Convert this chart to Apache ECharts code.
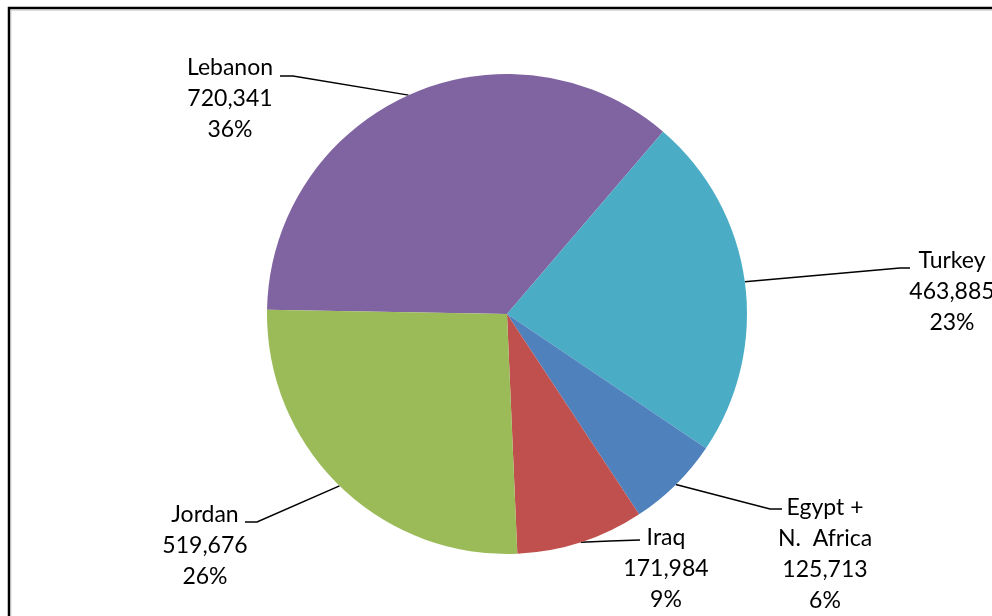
<!DOCTYPE html>
<html>
<head>
<meta charset="utf-8">
<script src="https://cdn.jsdelivr.net/npm/echarts@6/dist/echarts.min.js"></script>
<style>
  html, body { margin: 0; padding: 0; background: #fff; }
  #chart { width: 992px; height: 616px; }
</style>
</head>
<body>
<div id="chart"></div>
<script>
// countries, clockwise from 9 o'clock
var countries = ['Lebanon', 'Turkey', 'Egypt +\nN.  Africa', 'Iraq', 'Jordan'];
var refugees = [720341, 463885, 125713, 171984, 519676];
var colors = ['#8064A2', '#4BACC6', '#4F81BD', '#C0504D', '#9BBB59'];

// where each label sits (block centre) and where its leader line bends / ends
var labelPos = [[230, 99], [952, 292], [825, 554], [666, 569], [205, 546]];
var bendPts = [[[293, 76], [280, 76]], [[900, 268], [910, 268]], [[770, 509], [782, 509]], [[610, 541], [640, 540]], [[257, 522], [245, 522]]];

var chart = echarts.init(document.getElementById('chart'));

chart.setOption({
  backgroundColor: '#fff',
  animation: false,
  graphic: [
    { type: 'rect', shape: { x: 9, y: 8, width: 1200, height: 1000 }, style: { fill: 'none', stroke: '#000', lineWidth: 2.5 } },
    { type: 'rect', shape: { x: 10.8, y: 10, width: 1200, height: 1000 }, style: { fill: 'none', stroke: '#bbb', lineWidth: 1 } }
  ],
  series: [{
    type: 'pie',
    center: [507, 314],
    radius: 240,
    startAngle: 179,
    clockwise: true,
    percentPrecision: 0,
    data: countries.map(function (c, i) {
      return { name: c, value: refugees[i], itemStyle: { color: colors[i] } };
    }),
    label: {
      show: true,
      position: 'outside',
      color: '#000',
      fontFamily: 'Lato',
      fontSize: 23,
      lineHeight: 31,
      align: 'center',
      formatter: function (p) {
        return p.name + '\n' + p.value.toLocaleString('en-US') + '\n' + p.percent + '%';
      }
    },
    labelLine: {
      show: true,
      lineStyle: { color: '#000', width: 1.5 }
    },
    labelLayout: function (params) {
      var i = params.dataIndex;
      var start = params.labelLinePoints ? params.labelLinePoints[0] : bendPts[i][0];
      return {
        x: labelPos[i][0],
        y: labelPos[i][1],
        align: 'center',
        verticalAlign: 'middle',
        labelLinePoints: [start, bendPts[i][0], bendPts[i][1]]
      };
    }
  }]
});
</script>
</body>
</html>
